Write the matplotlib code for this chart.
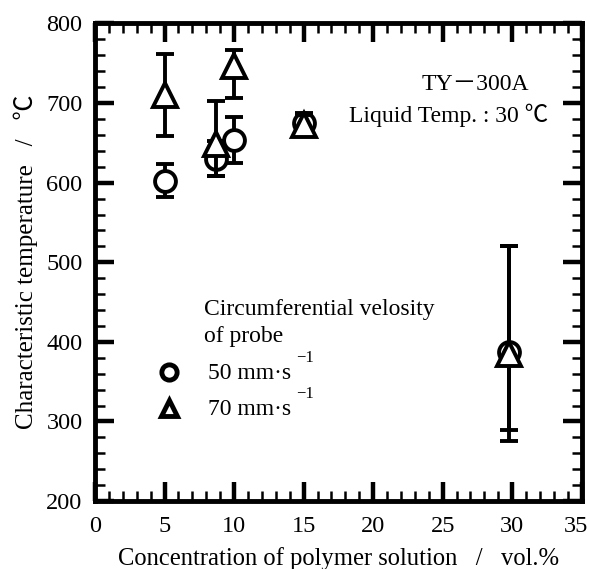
import matplotlib
matplotlib.use("Agg")
import matplotlib.pyplot as plt
from matplotlib.ticker import MultipleLocator, FuncFormatter

# ---- data ----
conc_50 = [5, 8.7, 10, 15, 29.8]
temp_50 = [602, 630, 654, 675, 387]
err_lo_50 = [20, 22, 29, 13, 98]
err_hi_50 = [21, 22, 29, 12, 133]

conc_70 = [5, 8.7, 10, 15, 29.8]
temp_70 = [710, 648, 747, 673, 385]
err_lo_70 = [51, 40, 41, 11, 110]
err_hi_70 = [52, 55, 20, 12, 135]

x_max = 35
xlabel = "Concentration of polymer solution   /   vol.%"
ylabel = "Characteristic temperature   /   ℃"
fam = ["Liberation Serif", "Noto Sans CJK JP", "DejaVu Serif"]
plt.rcParams["font.family"] = fam
FS = 17
TFS = 17.5
PAD_X = 11

fig = plt.figure(figsize=(5.9, 5.69), dpi=100)
ax = fig.add_axes([0.161, 0.1195, 0.825, 0.8392])

common = dict(color="black", ecolor="black", elinewidth=2.8, capsize=6.5,
              capthick=4, mfc="white", mec="black", mew=2.8, ls="none")
ax.errorbar(conc_50, temp_50, yerr=[err_lo_50, err_hi_50], marker="o", ms=15,
            zorder=3, **common)
ax.errorbar(conc_70, temp_70, yerr=[err_lo_70, err_hi_70], marker="^", ms=17,
            zorder=4, **common)

ax.set_xlim(0, x_max)
ax.set_ylim(200, 800)
ax.xaxis.set_major_locator(MultipleLocator(5))
ax.xaxis.set_minor_locator(MultipleLocator(1))
ax.yaxis.set_major_locator(MultipleLocator(100))
ax.yaxis.set_minor_locator(MultipleLocator(20))
ax.xaxis.set_major_formatter(FuncFormatter(lambda v, p: "" if abs(v - x_max) < 1e-6 else f"{v:g}"))
ax.tick_params(which="both", direction="in", top=True, right=True)
ax.tick_params(which="major", length=14, width=3.2, labelsize=TFS)
ax.tick_params(axis="x", which="major", pad=PAD_X)
ax.tick_params(axis="y", which="major", pad=9)
ax.tick_params(which="minor", length=7, width=1.8)
for s in ax.spines.values():
    s.set_linewidth(3.5)

# last x tick label, nudged left so it stays inside the figure
ax.annotate(f"{x_max}", xy=(x_max, 0), xycoords=("data", "axes fraction"),
            xytext=(-4, -PAD_X), textcoords="offset points",
            ha="center", va="top", fontsize=TFS)

ax.set_xlabel(xlabel, fontsize=17.7, labelpad=7)
ax.set_ylabel(ylabel, fontsize=18, labelpad=6)

ax.text(23.5, 723, "TY－300A", fontsize=FS, va="center", ha="left")
ax.text(18.3, 685, "Liquid Temp. : 30 ℃", fontsize=FS, va="center", ha="left")

ax.text(7.84, 441, "Circumferential velosity", fontsize=FS, va="center")
ax.text(7.84, 407, "of probe", fontsize=FS, va="center")
ax.plot([5.34], [362], marker="o", ms=11, mfc="white", mec="black", mew=3.5, ls="none")
ax.plot([5.34], [317], marker="^", ms=12, mfc="white", mec="black", mew=3.5, ls="none")
ax.text(8.12, 360, "50 mm·s", fontsize=FS, va="center")
ax.text(8.12, 315, "70 mm·s", fontsize=FS, va="center")
ax.text(14.45, 380, "−1", fontsize=12, va="center")
ax.text(14.45, 335, "−1", fontsize=12, va="center")

fig.savefig("out.png", dpi=100)
